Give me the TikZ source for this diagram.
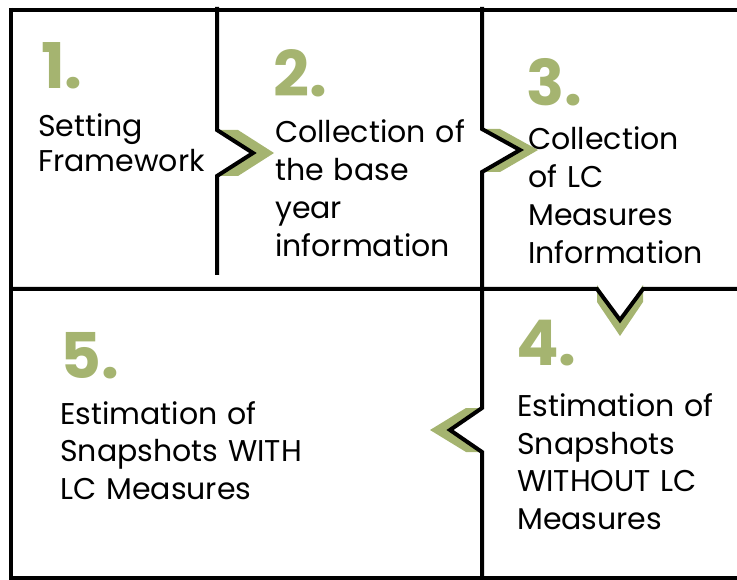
\documentclass[tikz,border=0pt]{standalone}
\usepackage{fontspec}
\setmainfont{Poppins}
\definecolor{olive}{RGB}{165,180,112}
\begin{document}
\begin{tikzpicture}[x=1pt,y=-1pt,
  rule/.style={line width=4pt,black,line join=miter},
  chev/.style={fill=olive},
  num/.style={anchor=base west,inner sep=0pt,text=olive,font=\fontsize{63}{64}\selectfont\bfseries},
  body/.style={anchor=base west,inner sep=0pt,text width=270pt,align=left,
    font=\fontsize{30}{38}\selectfont}]
\useasboundingbox (0,0) rectangle (737,580);

% green chevrons, under the rules
\fill[chev] (217,130) -- (238,130) -- (274,153) -- (238,176) -- (217,176) -- (253,153) -- cycle;
\fill[chev] (482,129) -- (500,129) -- (538,150) -- (500,172) -- (482,172) -- (520,150) -- cycle;
\fill[chev] (597,285) -- (597,302) -- (620,336) -- (643,302) -- (643,285) -- (620,320) -- cycle;
\fill[chev] (482,408) -- (466,408) -- (430,430) -- (466,452) -- (482,452) -- (450,430) -- cycle;

% outer frame
\draw[rule] (11,10) -- (737,10);
\draw[rule] (11,8) -- (11,580);
\draw[rule] (11,578) -- (737,578);

% dividers with notches
\draw[rule] (217,7) -- (217,130) -- (253,153) -- (217,176) -- (217,275);
\draw[rule] (482,7) -- (482,129) -- (520,150) -- (482,172) -- (482,408)
  -- (450,430) -- (482,452) -- (482,580);
\draw[rule] (11,289) -- (597,289) -- (620,320) -- (643,289) -- (737,289);

% step numbers
\node[num] (n1) at (41,89) {1.};
\node[num] (n2) at (273,97) {2.};
\node[num] (n3) at (526,106) {3.};
\node[num] (n4) at (516,366) {4.};
\node[num] (n5) at (60,378) {5.};

% step texts
\node[body] (t1) at (38,137) {Setting\\[-3pt]Framework};
\node[body] (t2) at (275,143) {Collection of\\the base\\year\\information};
\node[body] (t3) at (528,150) {Collection\\of LC\\Measures\\Information};
\node[body] (t4) at (517,416) {Estimation of\\Snapshots\\WITHOUT LC\\Measures};
\node[body] (t5) at (60,424) {Estimation of\\Snapshots WITH\\LC Measures};
\end{tikzpicture}
\end{document}
